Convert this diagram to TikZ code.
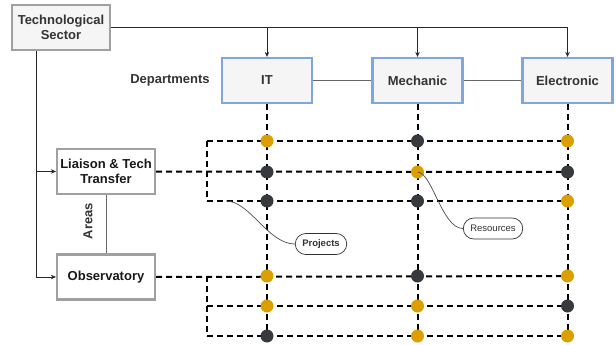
\documentclass[tikz,border=0pt]{standalone}
\usepackage{fontspec}
\setmainfont{Liberation Sans}
\usetikzlibrary{arrows.meta,backgrounds}
\definecolor{dotor}{HTML}{DBA000}
\definecolor{dotdk}{HTML}{36393D}
\definecolor{boxfill}{HTML}{F5F5F5}
\definecolor{bluestroke}{HTML}{7EA6E0}
\definecolor{graystroke}{HTML}{A0A0A0}
\definecolor{txt}{HTML}{333333}
\tikzset{
  sectorbox/.style={draw=graystroke,line width=2.2pt,fill=boxfill,minimum width=98pt,minimum height=45pt,inner sep=1pt,align=center,font=\fontsize{13}{15}\selectfont\bfseries,text=txt},
  deptbox/.style={draw=bluestroke,line width=2.2pt,fill=boxfill,minimum width=90pt,minimum height=45pt,font=\fontsize{13}{15}\selectfont\bfseries,text=txt},
  areabox/.style={draw=graystroke,line width=2.2pt,fill=white,minimum width=98pt,minimum height=45pt,inner sep=1pt,align=center,font=\fontsize{13}{15}\selectfont\bfseries,text=black!90},
  odot/.style={circle,fill=dotor,minimum size=13pt,inner sep=0pt},
  kdot/.style={circle,fill=dotdk,minimum size=13pt,inner sep=0pt},
  dline/.style={line width=2pt,dash pattern=on 6pt off 4pt,black},
  link/.style={line width=0.8pt,black!85,-{Stealth[length=5pt,width=4.5pt]}},
  plain/.style={line width=0.8pt,black!60},
  pill/.style={draw=black!80,line width=0.7pt,rounded corners=10.5pt,fill=white,minimum height=21pt,inner xsep=7pt,font=\fontsize{9.5}{11}\selectfont,text=txt},
  callout/.style={line width=0.7pt,black!70}
}
\begin{document}
\begin{tikzpicture}[x=1pt,y=-1pt]
\useasboundingbox (0,0) rectangle (616,345);
% boxes
\node[sectorbox] (ts) at (61,27.5) {Technological\\Sector};
\node[deptbox] (it) at (267,80.5) {IT};
\node[deptbox] (mech) at (417.5,80.5) {Mechanic};
\node[deptbox] (elec) at (567.5,80.5) {Electronic};
\node[font=\fontsize{13}{15}\selectfont\bfseries,text=txt] (dep) at (170,80.5) {Departments};
\node[areabox] (lia) at (106,171.5) {Liaison \& Tech\\Transfer};
\node[areabox] (obs) at (106,277) {Observatory};
\node[font=\fontsize{13}{15}\selectfont\bfseries,text=txt,rotate=90] (areas) at (88,221) {Areas};
% dots
\foreach \n/\y in {1/141,2/172,3/201,4/276,5/306,6/336}{
  \coordinate (l\n) at (207,\y);
}
\node[odot] (a1) at (267,141) {}; \node[kdot] (a2) at (267,172) {}; \node[kdot] (a3) at (267,201) {};
\node[odot] (a4) at (267,276) {}; \node[odot] (a5) at (267,306) {}; \node[kdot] (a6) at (267,336) {};
\node[kdot] (b1) at (417.5,141) {}; \node[odot] (b2) at (417.5,172) {}; \node[kdot] (b3) at (417.5,201) {};
\node[kdot] (b4) at (417.5,276) {}; \node[odot] (b5) at (417.5,306) {}; \node[odot] (b6) at (417.5,336) {};
\node[odot] (c1) at (567.5,141) {}; \node[kdot] (c2) at (567.5,172) {}; \node[odot] (c3) at (567.5,201) {};
\node[odot] (c4) at (567.5,276) {}; \node[kdot] (c5) at (567.5,306) {}; \node[odot] (c6) at (567.5,336) {};
% pills
\node[pill,font=\fontsize{9.5}{11}\selectfont\bfseries] (proj) at (321,244) {Projects};
\node[pill] (res) at (493,228.5) {Resources};
\begin{scope}[on background layer]
  % dashed grid
  \draw[dline] (it.south) -- (a6.center);
  \draw[dline] (mech.south) -- (b6.center);
  \draw[dline] (elec.south) -- (c6.center);
  \draw[dline] (l1) -- (c1.center);
  \draw[dline] (lia.east) -- (c2.center);
  \draw[dline] (l3) -- (c3.center);
  \draw[dline] (obs.east) -- (c4.center);
  \draw[dline] (l5) -- (c5.center);
  \draw[dline] (l6) -- (c6.center);
  \draw[dline] (l1) -- (l3);
  \draw[dline] (l4) -- (l6);
\end{scope}
% connectors
\draw[plain] (it.east) -- (mech.west);
\draw[plain] (mech.east) -- (elec.west);
\draw[line width=0.8pt,black!85] (ts.east) -- (elec.north |- ts.east);
\draw[link] (it.north |- ts.east) -- (it.north);
\draw[link] (mech.north |- ts.east) -- (mech.north);
\draw[link] (elec.north |- ts.east) -- (elec.north);
\draw[line width=0.8pt,black!85] (ts.south -| 36,0) -- (36,277);
\draw[link] (36,171.5) -- (lia.west);
\draw[link] (36,277) -- (obs.west);
\draw[plain] (lia.south) -- (obs.north);
% callouts
\coordinate (pstart) at (226,201);
\draw[callout] (pstart) .. controls (250,201) and (268,244) .. (proj.west);
\draw[callout] (b2.center) .. controls (432,172) and (442,228.5) .. (res.west);
\end{tikzpicture}
\end{document}
